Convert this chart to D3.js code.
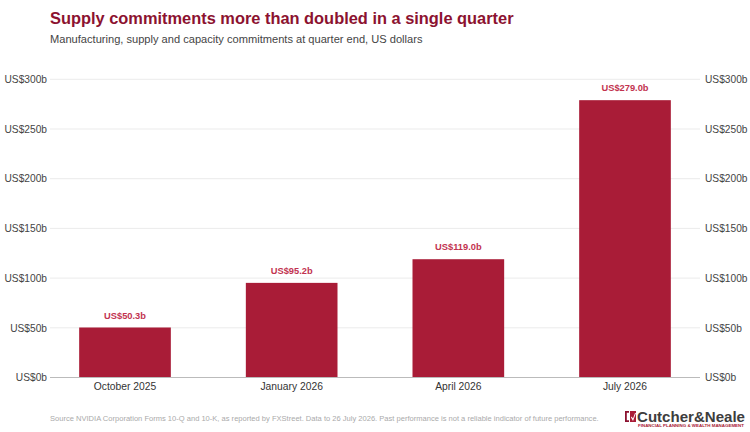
<!DOCTYPE html>
<html><head><meta charset="utf-8">
<script src="https://cdn.jsdelivr.net/npm/d3@7"></script>
<style>body{margin:0;background:#fff}svg{display:block;font-family:"Liberation Sans",Arial,sans-serif}</style>
</head><body>
<svg id="c" width="750" height="432"></svg>
<script>
const categories = ["October 2025", "January 2026", "April 2026", "July 2026"];
const values = [50.3, 95.2, 119.0, 279.0];
const valueLabels = ["US$50.3b", "US$95.2b", "US$119.0b", "US$279.0b"];
const tickValues = [0, 50, 100, 150, 200, 250, 300];
const tickLabels = ["US$0b", "US$50b", "US$100b", "US$150b", "US$200b", "US$250b", "US$300b"];

const svg = d3.select("#c");
const gridL = 50, gridR = 700;
const x = d3.scaleBand().domain(categories).range([41.67, 708.33]).paddingInner(0.45).paddingOuter(0.225);
const y = d3.scaleLinear().domain([0, 300]).range([377.5, 79.3]);

svg.append("text").attr("x", 50).attr("y", 24).attr("fill", "#8c1230")
  .attr("font-size", 16.4).attr("font-weight", "bold")
  .text("Supply commitments more than doubled in a single quarter");
svg.append("text").attr("x", 50).attr("y", 43).attr("fill", "#444")
  .attr("font-size", 11.1).text("Manufacturing, supply and capacity commitments at quarter end, US dollars");

// gridlines
svg.append("g").selectAll("line").data(tickValues.filter(d => d > 0)).join("line")
  .attr("x1", gridL).attr("x2", gridR).attr("y1", d => y(d)).attr("y2", d => y(d))
  .attr("stroke", "#ebebeb").attr("stroke-width", 1);

// axes
const fmt = d => tickLabels[tickValues.indexOf(d)];
const left = svg.append("g").attr("transform", `translate(${gridL},0)`)
  .call(d3.axisLeft(y).tickValues(tickValues).tickFormat(fmt).tickSize(0).tickPadding(3));
left.select(".domain").remove();
left.selectAll("text").attr("font-size", 10.2).attr("fill", "#444").attr("font-family", "Liberation Sans, Arial, sans-serif");
const right = svg.append("g").attr("transform", `translate(${gridR},0)`)
  .call(d3.axisRight(y).tickValues(tickValues).tickFormat(fmt).tickSize(0).tickPadding(5));
right.select(".domain").remove();
right.selectAll("text").attr("font-size", 10.2).attr("fill", "#444").attr("font-family", "Liberation Sans, Arial, sans-serif");

// bars
svg.append("g").selectAll("rect").data(categories).join("rect")
  .attr("x", d => x(d)).attr("width", x.bandwidth())
  .attr("y", (d, i) => y(values[i])).attr("height", (d, i) => y(0) - y(values[i]))
  .attr("fill", "#a91c37");

// baseline
svg.append("line").attr("x1", gridL).attr("x2", gridR).attr("y1", y(0)).attr("y2", y(0))
  .attr("stroke", "#bbb").attr("stroke-width", 1);

// value labels
svg.append("g").selectAll("text").data(categories).join("text")
  .attr("x", d => x(d) + x.bandwidth() / 2).attr("y", (d, i) => y(values[i]) - 9)
  .attr("text-anchor", "middle").attr("font-size", 9.3).attr("font-weight", "bold")
  .attr("fill", "#c2334f").text((d, i) => valueLabels[i]);

// x axis
const bottom = svg.append("g").attr("transform", `translate(0,${y(0)})`)
  .call(d3.axisBottom(x).tickSize(0).tickPadding(5));
bottom.select(".domain").remove();
bottom.selectAll("text").attr("font-size", 10.3).attr("fill", "#333").attr("font-family", "Liberation Sans, Arial, sans-serif");

// source
svg.append("text").attr("x", 50).attr("y", 421).attr("fill", "#aaa").attr("font-size", 7.55)
  .text("Source  NVIDIA Corporation Forms 10-Q and 10-K, as reported by FXStreet. Data to 26 July 2026. Past performance is not a reliable indicator of future performance.");

// logo
const logo = svg.append("g").attr("transform", "translate(625,411)");
logo.append("path").attr("d", "M0,0 H4 V1.8 H1.8 V9.2 H4 V11 H0 Z").attr("fill", "#8c1230");
logo.append("path").attr("d", "M5,0 H11 V11 H5 Z").attr("fill", "#a91c37");
logo.append("path").attr("d", "M6.5,5.5 L8,7.5 L10,2 L11,2 L8,10 L6,6.5 Z").attr("fill", "#fff");
logo.append("text").attr("x", 12).attr("y", 11).attr("font-size", 14.5).attr("font-weight", "bold")
  .attr("fill", "#3d3d3d").attr("textLength", 108).attr("lengthAdjust", "spacingAndGlyphs").text("Cutcher&Neale");
logo.append("text").attr("x", 13).attr("y", 16).attr("font-size", 3.6).attr("font-weight", "bold")
  .attr("fill", "#a91c37").attr("textLength", 106).attr("lengthAdjust", "spacingAndGlyphs")
  .text("FINANCIAL PLANNING & WEALTH MANAGEMENT");
</script>
</body></html>
